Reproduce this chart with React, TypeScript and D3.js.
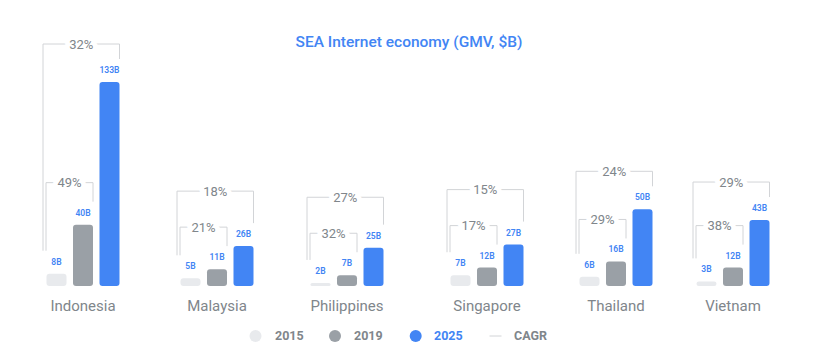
import React from 'react';
import * as d3 from 'd3';

const countries = ['Indonesia', 'Malaysia', 'Philippines', 'Singapore', 'Thailand', 'Vietnam'];
const years = ['2015', '2019', '2025'];
const gmv2015 = [8, 5, 2, 7, 6, 3];
const gmv2019 = [40, 11, 7, 12, 16, 12];
const gmv2025 = [133, 26, 25, 27, 50, 43];
const cagr2015to2019 = [49, 21, 32, 17, 29, 38];
const cagr2015to2025 = [32, 18, 27, 15, 24, 29];

const W = 839;
const H = 363;
const font = 'Roboto, "Noto Sans", sans-serif';
const colors: Record<string, string> = { '2015': '#e8eaed', '2019': '#9aa0a6', '2025': '#4285f4' };
const blue = '#4285f4';
const grey = '#80868b';
const bracketColor = '#d2d4d7';

const App = () => {
  const base = 286;
  const x = d3.scaleOrdinal<string, number>().domain(countries).range([83, 217, 347, 487, 616, 733]);
  const inner = d3.scaleBand().domain(years).range([-36.5, 36.5]).paddingInner(0.245);
  const y = d3.scaleLinear().domain([0, 133]).range([base, 82]);
  const bw = inner.bandwidth();

  const series: Record<string, number[]> = { '2015': gmv2015, '2019': gmv2019, '2025': gmv2025 };

  const groups = countries.map((c, i) => {
    const cx = x(c);
    const left = (yr: string) => cx + (inner(yr) as number);
    const labelY = (yr: string) => y(series[yr][i]) - 12;
    const innerTop = labelY('2019') - 30;
    const outerTop = Math.min(labelY('2025') - 26, innerTop - 36);
    const leftBottom = labelY('2015') - 11;
    return { c, i, cx, left, labelY, innerTop, outerTop, leftBottom };
  });

  const bracket = (x1: number, x2: number, top: number, b1: number, b2: number, txt: string, key: string) => (
    <g key={key}>
      <path d={`M${x1},${b1}V${top}H${x2}V${b2}`} fill="none" stroke={bracketColor} strokeWidth={1} />
      <text x={(x1 + x2) / 2} y={top} dy="0.35em" textAnchor="middle" fontSize={13} fill={grey}
        stroke="#fff" strokeWidth={10} strokeLinejoin="round" paintOrder="stroke" fontFamily={font}>{txt}</text>
    </g>
  );

  const legend = [
    { label: '2015', cx: 255.5, tx: 275, color: colors['2015'], textColor: grey },
    { label: '2019', cx: 335, tx: 354, color: colors['2019'], textColor: grey },
    { label: '2025', cx: 415.7, tx: 434, color: colors['2025'], textColor: blue },
  ];

  return (
    <svg width={W} height={H} style={{ position: 'absolute', left: 0, top: 0, background: '#fff' }} fontFamily={font}>
      <text x={409} y={42} dy="0.35em" textAnchor="middle" fontSize={15.5} fontWeight={500} fill={blue}>
        SEA Internet economy (GMV, $B)
      </text>

      {groups.map(g => (
        <g key={g.c}>
          {bracket(g.left('2015') - 3.5, g.left('2025') + bw, g.outerTop, g.leftBottom, g.labelY('2025') - 11, `${cagr2015to2025[g.i]}%`, 'o')}
          {bracket(g.left('2015') - 0.5, g.left('2019') + bw, g.innerTop, g.leftBottom, g.labelY('2019') - 11, `${cagr2015to2019[g.i]}%`, 'i')}
          {years.map(yr => {
            const v = series[yr][g.i];
            const h = base - y(v);
            return (
              <g key={yr}>
                <rect x={g.left(yr)} y={y(v)} width={bw} height={h} rx={Math.min(3, h / 2)} fill={colors[yr]} />
                <text x={g.left(yr) + bw / 2} y={g.labelY(yr)} dy="0.35em" textAnchor="middle" fontSize={8.5}
                  fontWeight={600} fill={blue}>{`${v}B`}</text>
              </g>
            );
          })}
          <text x={g.cx} y={306} dy="0.35em" textAnchor="middle" fontSize={15} fill={grey}>{g.c}</text>
        </g>
      ))}

      {legend.map(l => (
        <g key={l.label}>
          <circle cx={l.cx} cy={336} r={6} fill={l.color} />
          <text x={l.tx} y={336} dy="0.35em" fontSize={12.5} fontWeight={700} fill={l.textColor}>{l.label}</text>
        </g>
      ))}
      <line x1={489.5} x2={501.5} y1={336} y2={336} stroke={bracketColor} strokeWidth={1} />
      <text x={514} y={336} dy="0.35em" fontSize={12.5} fontWeight={700} fill={grey}>CAGR</text>
    </svg>
  );
};

export default App;
